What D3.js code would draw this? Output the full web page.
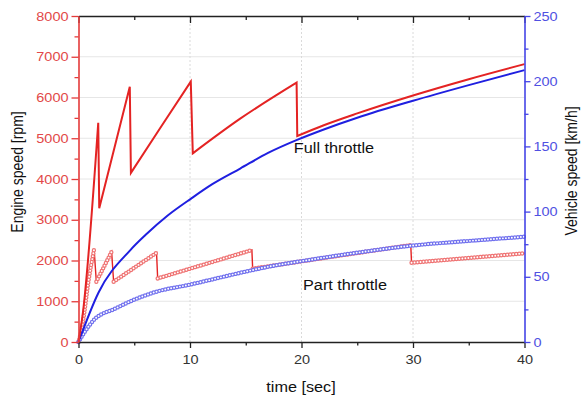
<!DOCTYPE html>
<html><head><meta charset="utf-8">
<script src="https://cdn.jsdelivr.net/npm/d3@7"></script>
<style>
body{margin:0;background:#fff}
svg{display:block}
text{font-family:"Liberation Sans",Arial,sans-serif}
</style>
</head><body>
<svg id="c" width="582" height="399"></svg>
<script>
// ---- data ----
const fullRpmTime = [0, 0.35, 1.77, 1.86, 4.6, 4.7, 7.3, 10.07, 10.25, 14.5, 19.56, 19.62, 22, 25, 30, 35, 40];
const fullRpm     = [0, 620, 5380, 3280, 6265, 4150, 5240, 6390, 4630, 5480, 6365, 5055, 5320, 5610, 6050, 6450, 6820];

const fullSpeedTime = [0, 1.8, 4.65, 6, 8, 10.1, 12, 14.5, 17, 19.6, 22, 25, 30, 35, 40];
const fullSpeed     = [0, 38, 70.5, 82, 97, 110, 121, 133, 145, 155, 163, 172, 185, 197, 208.5];

const partRpmTime = [0, 0.4, 0.9, 1.4, 1.6, 2.97, 3.15, 7.0, 7.1, 15.55, 15.62, 29.8, 29.87, 40];
const partRpm     = [0, 500, 1500, 2275, 1480, 2215, 1480, 2190, 1560, 2257, 1800, 2380, 1945, 2177];

const partSpeedTime = [0, 0.5, 1, 1.5, 2, 3, 4.6, 7, 10, 12, 15, 17.5, 20, 25, 30, 35, 40];
const partSpeed     = [0, 7, 13, 18, 21, 24.5, 31, 38.6, 44, 48, 54, 58.5, 62, 68.5, 74, 77.5, 80.7];

const timeTicks  = [0, 10, 20, 30, 40];
const timeMinor  = [5, 15, 25, 35];
const rpmTicks   = [0, 1000, 2000, 3000, 4000, 5000, 6000, 7000, 8000];
const rpmMinor   = [500, 1500, 2500, 3500, 4500, 5500, 6500, 7500];
const speedTicks = [0, 50, 100, 150, 200, 250];
const speedMinor = [25, 75, 125, 175, 225];

const labels = {x: "time [sec]", yl: "Engine speed [rpm]", yr: "Vehicle speed [km/h]",
                full: "Full throttle", part: "Part throttle"};

// ---- layout ----
const L = 78.5, R = 524.5, T = 16, B = 342;
const SX = 1.16; // horizontal stretch of the reference's text
const svg = d3.select("#c");
const x  = d3.scaleLinear().domain([0, 40]).range([L, R]);
const yL = d3.scaleLinear().domain([0, 8000]).range([B, T]);
const yR = d3.scaleLinear().domain([0, 250]).range([B, T]);

const RED = "#e42323", BLUE = "#1f1fe0";
const AXRED = "#e43a3a", AXBLUE = "#4545e6";

// grid
const grid = svg.append("g");
grid.selectAll("line.h").data(rpmTicks.filter(d => d > 0 && d < 8000)).join("line")
  .attr("x1", L).attr("x2", R).attr("y1", d => yL(d)).attr("y2", d => yL(d))
  .attr("stroke", "#e6e6e6").attr("stroke-width", 1);
grid.selectAll("line.v").data(timeTicks.filter(d => d > 0 && d < 40)).join("line")
  .attr("x1", d => x(d)).attr("x2", d => x(d)).attr("y1", T).attr("y2", B)
  .attr("stroke", "#dadada").attr("stroke-width", 1).attr("stroke-dasharray", "2 2");

const zip = (ts, vs) => ts.map((t, i) => [t, vs[i]]);
const rampLine = d3.line().x(d => x(d[0])).y(d => yL(d[1])).curve(d3.curveMonotoneX);
const lineR = d3.line().x(d => x(d[0])).y(d => yR(d[1])).curve(d3.curveMonotoneX);

// split a sawtooth series into its rising ramps
function ramps(pts) {
  const segs = [[pts[0]]];
  for (let i = 1; i < pts.length; i++) {
    if (pts[i][1] < pts[i - 1][1]) segs.push([pts[i]]);
    else segs[segs.length - 1].push(pts[i]);
  }
  return segs;
}
// sawtooth path: smooth ramps joined by straight drops
function sawPath(pts) {
  const segs = ramps(pts);
  let d = "";
  segs.forEach((s, i) => {
    const p = s.length > 1 ? rampLine(s) : `M${x(s[0][0])},${yL(s[0][1])}`;
    d += i === 0 ? p : "L" + p.slice(1);
  });
  return d;
}

// ring-chain (open circle markers) drawn via round-capped dashes
function ringChain(g, d, col) {
  g.append("path").attr("d", d).attr("fill", "none").attr("stroke", col)
    .attr("stroke-width", 4.4).attr("stroke-linecap", "round").attr("stroke-dasharray", "0 3");
  g.append("path").attr("d", d).attr("fill", "none").attr("stroke", "#fff")
    .attr("stroke-width", 1.9).attr("stroke-linecap", "round").attr("stroke-dasharray", "0 3");
}

const partR = zip(partRpmTime, partRpm);
const partS = zip(partSpeedTime, partSpeed);
const gPart = svg.append("g");
gPart.append("path").attr("d", sawPath(partR)).attr("fill", "none").attr("stroke", RED).attr("stroke-width", 1.4);
ramps(partR).filter(s => s.length > 1).forEach(s => ringChain(gPart, rampLine(s), "#ef7474"));
ringChain(gPart, lineR(partS), "#7272ee");

// full throttle lines
svg.append("path").attr("d", lineR(zip(fullSpeedTime, fullSpeed))).attr("fill", "none")
  .attr("stroke", BLUE).attr("stroke-width", 2);
svg.append("path").attr("d", sawPath(zip(fullRpmTime, fullRpm))).attr("fill", "none")
  .attr("stroke", RED).attr("stroke-width", 2).attr("stroke-linejoin", "miter");

// ---- axes ----
function style(g, col) {
  g.select(".domain").attr("stroke", col).attr("stroke-width", 1.6);
  g.selectAll(".tick line").attr("stroke", col).attr("stroke-width", 1.3);
}
// bottom
const gb = svg.append("g").attr("transform", `translate(0,${B})`)
  .call(d3.axisBottom(x).tickValues(timeTicks).tickSize(6).tickSizeOuter(0));
style(gb, "#222");
gb.selectAll(".tick text").attr("x", 0).attr("y", 22.5).attr("dy", null).attr("fill", "#333")
  .attr("font-size", 12.5).attr("transform", `scale(${SX},1)`);
const gbm = svg.append("g").attr("transform", `translate(0,${B})`)
  .call(d3.axisBottom(x).tickValues(timeMinor).tickSize(3.5).tickFormat(""));
gbm.select(".domain").remove(); style(gbm, "#222");
// top (inward ticks, no labels)
const gt = svg.append("g").attr("transform", `translate(0,${T})`)
  .call(d3.axisTop(x).tickValues(timeTicks).tickSize(-7).tickSizeOuter(0).tickFormat(""));
style(gt, "#222");
const gtm = svg.append("g").attr("transform", `translate(0,${T})`)
  .call(d3.axisTop(x).tickValues(timeMinor).tickSize(-4).tickFormat(""));
gtm.select(".domain").remove(); style(gtm, "#222");

// left
const gl = svg.append("g").attr("transform", `translate(${L},0)`)
  .call(d3.axisLeft(yL).tickValues(rpmTicks).tickSize(7).tickSizeOuter(0).tickFormat(d3.format("d")));
style(gl, AXRED);
gl.selectAll(".tick text").attr("x", -10 / SX).attr("fill", "#e24848").attr("font-size", 12.5)
  .attr("transform", `scale(${SX},1)`);
const glm = svg.append("g").attr("transform", `translate(${L},0)`)
  .call(d3.axisLeft(yL).tickValues(rpmMinor).tickSize(4).tickFormat(""));
glm.select(".domain").remove(); style(glm, AXRED);

// right
const gr = svg.append("g").attr("transform", `translate(${R},0)`)
  .call(d3.axisRight(yR).tickValues(speedTicks).tickSize(6).tickSizeOuter(0));
style(gr, AXBLUE);
gr.selectAll(".tick text").attr("x", 9 / SX).attr("fill", "#5050e2").attr("font-size", 12.5)
  .attr("transform", `scale(${SX},1)`);
const grm = svg.append("g").attr("transform", `translate(${R},0)`)
  .call(d3.axisRight(yR).tickValues(speedMinor).tickSize(4).tickFormat(""));
grm.select(".domain").remove(); style(grm, AXBLUE);

// ---- titles ----
function label(txt, tx, ty, rot, size) {
  const t = svg.append("text").text(txt).attr("font-size", size).attr("fill", "#111")
    .attr("text-anchor", "middle");
  if (rot) t.attr("transform", `translate(${tx},${ty}) rotate(-90) scale(1,${SX})`);
  else t.attr("transform", `translate(${tx},${ty}) scale(${SX},1)`);
  return t;
}
label(labels.x, 301, 392, false, 14);
label(labels.yl, 23, 172, true, 14);
label(labels.yr, 577, 171, true, 14);
label(labels.full, 334, 153, false, 14);
label(labels.part, 345, 290, false, 14);
</script>
</body></html>
